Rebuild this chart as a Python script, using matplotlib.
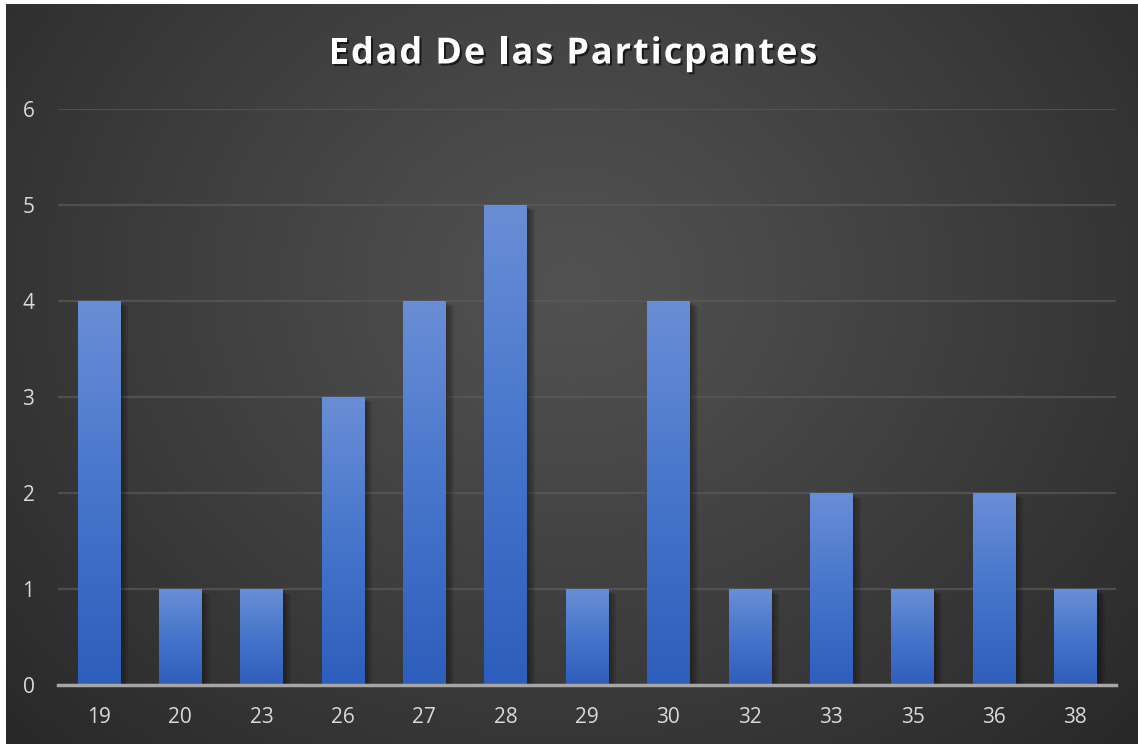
import numpy as np
import matplotlib.pyplot as plt
import matplotlib.patheffects as pe
from matplotlib.colors import LinearSegmentedColormap

edades = ['19', '20', '23', '26', '27', '28', '29', '30', '32', '33', '35', '36', '38']
cantidad = [4, 1, 1, 3, 4, 5, 1, 4, 1, 2, 1, 2, 1]
yticks = [0, 1, 2, 3, 4, 5, 6]
titulo = 'Edad De las Particpantes'

W, H = 1138, 744
fig = plt.figure(figsize=(W / 100, H / 100), dpi=100)
fig.patch.set_facecolor('white')

# background with radial gradient
bg = fig.add_axes([6 / W, 0, 1 - 6 / W, 1 - 4 / H])
bg.axis('off')
ny, nx = 300, 460
yy, xx = np.mgrid[0:1:ny * 1j, 0:1:nx * 1j]
cx, cy = 0.5, 0.62
d = np.sqrt(((xx - cx) / 0.72) ** 2 + ((yy - cy) / 0.95) ** 2)
d = np.clip(d, 0, 1)
v = (82 - (82 - 38) * d ** 1.1) / 255.0
img = np.dstack([v, v, v])
bg.imshow(img, origin='lower', extent=[0, 1, 0, 1], aspect='auto', interpolation='bilinear')
bg.set_xlim(0, 1)
bg.set_ylim(0, 1)

ax = fig.add_axes([58 / W, (H - 685) / H, (1116 - 58) / W, (685 - 109) / H])
ax.patch.set_alpha(0)
x = np.arange(len(edades))

cmap = LinearSegmentedColormap.from_list('barra', ['#2e5ebc', '#4675cb', '#6a8ed6'])
grad = np.linspace(0, 1, 256).reshape(-1, 1)

shadow = [pe.SimplePatchShadow(offset=(o, -o * 0.6), shadow_rgbFace='black', alpha=0.10)
          for o in (1.5, 3, 4.5, 6)]
bars = ax.bar(x, cantidad, width=0.52, color='#4472c4', zorder=3,
              path_effects=shadow + [pe.Normal()])
for b in bars:
    x0, y0 = b.get_x(), b.get_y()
    w, h = b.get_width(), b.get_height()
    im = ax.imshow(grad, cmap=cmap, origin='lower', extent=[x0, x0 + w, y0, y0 + h],
                   aspect='auto', zorder=4, interpolation='bilinear')
    im.set_clip_path(b)
ax.set_xlim(-0.5, len(edades) - 0.5)
ax.set_ylim(0, 6)

ax.set_yticks(yticks)
ax.set_xticks(x)
ax.set_xticklabels(edades)
ax.yaxis.grid(True, color='#5a5a5a', linewidth=1.6, alpha=0.7, zorder=0)
ax.set_axisbelow(True)
for s in ['top', 'right', 'left']:
    ax.spines[s].set_visible(False)
ax.spines['bottom'].set_color('#a6a6a6')
ax.spines['bottom'].set_linewidth(2.5)
ax.spines['bottom'].set_zorder(5)
ax.tick_params(axis='both', length=0, colors='#d9d9d9', labelsize=15)
ax.tick_params(axis='x', pad=16)
ax.tick_params(axis='y', pad=17)
for lab in ax.get_xticklabels() + ax.get_yticklabels():
    lab.set_fontfamily('Open Sans')

# title with letter spacing
renderer = fig.canvas.get_renderer()
tprops = dict(fontsize=26, fontweight='bold', fontfamily='Open Sans')
spacing = 1.9  # px between letters


def width_px(s):
    t = fig.text(0, 0, s + '|', **tprops)
    w1 = t.get_window_extent(renderer).width
    t.remove()
    t = fig.text(0, 0, '|', **tprops)
    w2 = t.get_window_extent(renderer).width
    t.remove()
    return w1 - w2


total = width_px(titulo) + spacing * (len(titulo) - 1)
start = W / 2 - total / 2 + 4
ytit = (H - 50) / H
for i, ch in enumerate(titulo):
    if ch == ' ':
        continue
    xpos = start + width_px(titulo[:i]) + spacing * i
    fig.text(xpos / W, ytit, ch, ha='left', va='center_baseline', color='white', **tprops,
             path_effects=[pe.withSimplePatchShadow(offset=(1.5, -1.5), shadow_rgbFace='black', alpha=0.6)])

fig.savefig('out.png', dpi=100, facecolor=fig.get_facecolor())
